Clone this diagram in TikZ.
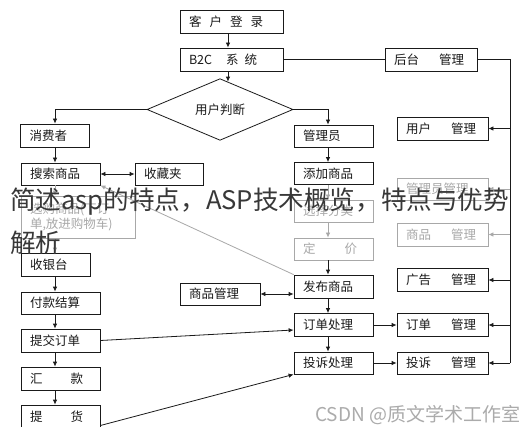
\documentclass[tikz,border=0pt]{standalone}
\usepackage{fontspec}
\newfontfamily\cjk{Noto Sans CJK SC}
\usetikzlibrary{shapes.geometric,arrows.meta,calc}
\definecolor{ln}{HTML}{1A1A1A}
\definecolor{gl}{HTML}{A8A8A8}
\tikzset{
  bx/.style={draw=ln, line width=0.8pt, inner xsep=9pt, inner ysep=0pt,
    text width=#1, minimum height=23pt, align=left, text=ln,
    font=\cjk\fontsize{12.5}{15}\selectfont},
  gbx/.style={bx=#1, draw=gl, text=gl},
  arr/.style={draw=ln, line width=0.8pt, -{Latex[length=5pt,width=4.5pt]}},
  garr/.style={draw=gl, line width=0.8pt, -{Latex[length=5pt,width=4.5pt]}},
  darr/.style={draw=ln, line width=0.8pt, {Latex[length=5pt,width=4.5pt]}-{Latex[length=5pt,width=4.5pt]}},
  pln/.style={draw=ln, line width=0.8pt},
  wm/.style={inner sep=0pt, text=black!78, font=\cjk\fontsize{25.6}{30}\selectfont},
}
\begin{document}
\begin{tikzpicture}[x=1pt,y=-1pt]
\clip (0,0) rectangle (521,427);
\fill[white] (0,0) rectangle (521,427);
\coordinate (colx) at (55,0);
\coordinate (colm) at (328,0);
\coordinate (busend) at (510,363);
% top
\node[bx=85] (kehu) at (231.5,21.5) {客\hspace{8pt}户\hspace{8pt}登\hspace{8pt}录};
\node[bx=85] (b2c) at (231.5,59.5) {B2C\hspace{14pt}系\hspace{6pt}统};
\node[draw=ln, line width=0.8pt, diamond, minimum width=146pt, minimum height=45pt, inner sep=0pt, text=ln, font=\cjk\fontsize{12.5}{15}\selectfont] (dia) at (220,109.5) {用户判断\hspace{14pt}};
\node[bx=74] (houtai) at (431,59.5) {后台\hspace{20pt}管理};
% left column
\node[bx=51] (xiaofei) at (55,135.5) {消费者};
\node[bx=61, minimum height=22pt] (sousuo) at (60.5,174) {搜索商品};
\node[bx=50, minimum height=22pt] (shoucang) at (169,174) {收藏夹};
\node[gbx=96, minimum height=42pt] (xuangou) at (78,217) {选购商品(下订\\单,放进购物车)};
\node[bx=51] (shouyin) at (55.5,264.5) {收银台};
\node[bx=61, minimum height=22pt] (fukuan) at (60.5,303) {付款结算};
\node[bx=61] (tijiao) at (60.5,340.5) {提交订单};
\node[bx=61] (huikuan) at (60.5,378.5) {汇\hspace{28pt}款};
\node[bx=61] (tihuo) at (60.5,416.5) {提\hspace{28pt}货};
% middle column
\node[bx=61, minimum height=22pt] (guanliyuan) at (333.5,136) {管理员};
\node[bx=61, minimum height=22pt] (tianjia) at (333.5,173.5) {添加商品};
\node[gbx=61, minimum height=22pt] (xuanze) at (333.5,211) {选择分类};
\node[gbx=61, minimum height=22pt] (dingjia) at (333.5,249) {定\hspace{29pt}价};
\node[bx=61] (fabu) at (333.5,286.5) {发布商品};
\node[bx=61] (dingdan) at (333.5,325) {订单处理};
\node[bx=61, minimum height=22pt] (tousu) at (333.5,363) {投诉处理};
\node[bx=62, minimum height=22pt] (spgl) at (220,294) {商品管理};
% right column
\node[bx=73] (yonghu) at (442.5,128.5) {用户\hspace{20pt}管理};
\node[gbx=73, minimum height=22pt] (glygl) at (442.5,189) {管理员管理};
\node[gbx=73] (spgl2) at (442.5,234.5) {商品\hspace{20pt}管理};
\node[bx=73] (guanggao) at (442.5,280) {广告\hspace{20pt}管理};
\node[bx=73] (ddgl) at (442.5,325) {订单\hspace{20pt}管理};
\node[bx=73, minimum height=22pt] (tsgl) at (442.5,363) {投诉\hspace{20pt}管理};
% connectors top
\draw[arr] (kehu.south -| dia.74) -- (b2c.north -| dia.74);
\draw[arr] (b2c.south -| dia.74) -- (dia.74);
\draw[pln] (b2c.east) -- (houtai.west);
\draw[arr] (dia.west) -| (xiaofei.north -| colx);
\draw[arr] (dia.east) -| (guanliyuan.north -| colm);
% bus
\draw[pln] (houtai.east) -| (busend);
\foreach \n in {yonghu,guanggao,ddgl,tsgl} \draw[arr] (\n.east -| busend) -- (\n.east);
\foreach \n in {glygl,spgl2} \draw[garr] (\n.east -| busend) -- (\n.east);
% left chain
\foreach \a/\b in {xiaofei/sousuo,shouyin/fukuan,fukuan/tijiao,tijiao/huikuan,huikuan/tihuo}
  \draw[arr] (\a.south -| colx) -- (\b.north -| colx);
\foreach \a/\b in {sousuo/xuangou,xuangou/shouyin}
  \draw[garr] (\a.south -| colx) -- (\b.north -| colx);
% middle chain
\foreach \a/\b in {guanliyuan/tianjia,dingjia/fabu,fabu/dingdan,dingdan/tousu}
  \draw[arr] (\a.south -| colm) -- (\b.north -| colm);
\foreach \a/\b in {tianjia/xuanze,xuanze/dingjia}
  \draw[garr] (\a.south -| colm) -- (\b.north -| colm);
% cross links
\draw[darr] (sousuo.east) -- (shoucang.west);
\draw[darr] (spgl.east) -- (fabu.west |- spgl.east);
\draw[garr] (fabu.north west) -- (sousuo.south east);
\draw[arr] (tijiao.east) -- ($(dingdan.west)+(0,5)$);
\draw[arr] ($(tihuo.east)+(0,9)$) -- (tousu.south west);
\draw[arr] (dingdan.east) -- (ddgl.west);
\draw[arr] (tousu.east) -- (tsgl.west);
% overlay texts
\node[wm, anchor=base west] (wm1) at (10,210) {简述asp的特点，ASP技术概览，特点与优势};
\node[wm, anchor=base west] (wm2) at (10,253) {解析};
\node[anchor=base west, inner sep=0pt, text=black!33, font=\cjk\fontsize{19}{21}\selectfont] (csdn) at (315,421) {CSDN @质文学术工作室};
\end{tikzpicture}
\end{document}
